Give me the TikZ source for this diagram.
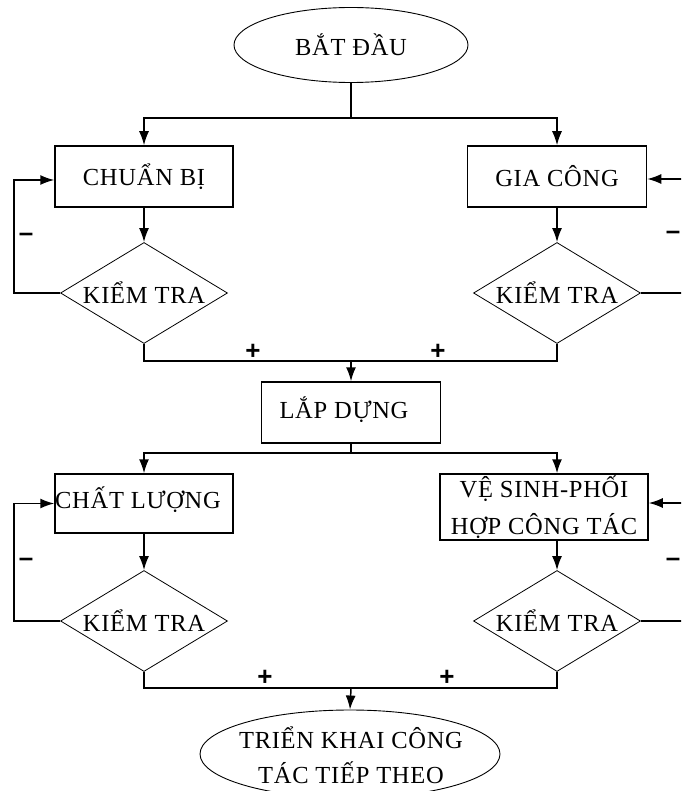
\documentclass[tikz,border=0pt]{standalone}
\usepackage{fontspec}
\setmainfont[LetterSpace=3]{Liberation Serif}
\newfontfamily\signfont{Liberation Sans}
\usetikzlibrary{shapes.geometric,arrows.meta}

\begin{document}
\begin{tikzpicture}[x=1pt,y=-1pt,
  every node/.style={font=\fontsize{24.5}{29}\selectfont, inner sep=0pt},
  terminal/.style={draw, ellipse, line width=0.9pt},
  stepbox/.style={draw, rectangle, line width=1.5pt},
  check/.style={draw, diamond, aspect=1.65, line width=0.8pt, minimum width=167pt, minimum height=101pt},
  flow/.style={line width=1.5pt},
  arr/.style={flow, -{Latex[length=14pt,width=10pt]}},
  sign/.style={font=\signfont\bfseries\fontsize{26}{28}\selectfont}]

% page frame
\useasboundingbox (0,0) rectangle (681,791);
\fill[white] (0,0) rectangle (681,791);
\clip (0,0) rectangle (681,791);

% ---- nodes ----
\node[terminal, minimum width=234pt, minimum height=75pt] (start) at (351,45) {BẮT ĐẦU};

\node[stepbox, minimum width=178pt, minimum height=61pt] (prep) at (144,176.5) {CHUẨN BỊ};
\node[check] (chk1) at (144,293) {KIỂM TRA};

\node[stepbox, minimum width=179pt, minimum height=61pt] (proc) at (557,176.5) {GIA CÔNG};
\node[check] (chk2) at (557,293) {KIỂM TRA};

\node[stepbox, minimum width=179pt, minimum height=61pt] (assemble) at (351,412.5) {};
\node (assembletext) at (344,410) {LẮP DỰNG};

\node[stepbox, minimum width=178pt, minimum height=59pt] (quality) at (144,503.5) {};
\node (qualitytext) at (138,500) {CHẤT LƯỢNG};
\node[check] (chk3) at (144,621) {KIỂM TRA};

\node[stepbox, minimum width=208pt, minimum height=66pt, align=center,
      font=\fontsize{24.5}{37}\selectfont] (hygiene) at (544,507) {VỆ SINH-PHỐI\\HỢP CÔNG TÁC};
\node[check] (chk4) at (557,621) {KIỂM TRA};

\node[terminal, minimum width=300pt, minimum height=88pt] (finish) at (350,754) {};
\node[align=center, font=\fontsize{24.5}{35}\selectfont] (finishtext) at (351,755)
  {TRIỂN KHAI CÔNG\\TÁC TIẾP THEO};

% ---- junction points ----
\coordinate (split1) at (351,118);
\coordinate (join1) at (351,361);
\coordinate (split2) at (351,453);
\coordinate (join2) at (351,688);
\coordinate (edge1) at (700,293);
\coordinate (edge2) at (700,621);

% ---- connectors ----
\draw[flow] (start.south) -- (split1);
\draw[arr] (split1) -| (prep.north);
\draw[arr] (split1) -| (proc.north);

\draw[arr] (prep.south) -- (chk1.north);
\draw[arr] (proc.south) -- (chk2.north);

\draw[arr] (chk1.west) -- ++(-46,0) |- ([yshift=-3.5pt]prep.west);
\draw[flow] (chk2.east) -- (edge1);
\draw[arr] (edge1) |- ([yshift=-2.5pt]proc.east);

\draw[flow] (chk1.south) |- (join1) -| (chk2.south);
\draw[arr] (join1) -- (assemble.north);

\draw[flow] (assemble.south) -- (split2);
\draw[arr] (split2) -| (quality.north);
\draw[arr] (split2) -| (hygiene.north -| chk4.north);

\draw[arr] (quality.south) -- (chk3.north);
\draw[arr] (hygiene.south -| chk4.north) -- (chk4.north);

\draw[arr] (chk3.west) -- ++(-46,0) |- (quality.west);
\draw[flow] (chk4.east) -- (edge2);
\draw[arr] (edge2) |- ([yshift=4pt]hygiene.east);

\draw[flow] (chk3.south) |- (join2) -| (chk4.south);
\draw[arr] (join2) -- (finish.north);

% ---- branch signs ----
\node[sign] (minus1) at (26,237) {–};
\node[sign] (minus2) at (673,235) {–};
\node[sign] (minus3) at (26,562) {–};
\node[sign] (minus4) at (673,562) {–};
\node[sign] (plus1) at (253,352) {+};
\node[sign] (plus2) at (438,352) {+};
\node[sign] (plus3) at (265,678) {+};
\node[sign] (plus4) at (447,678) {+};
\end{tikzpicture}
\end{document}
